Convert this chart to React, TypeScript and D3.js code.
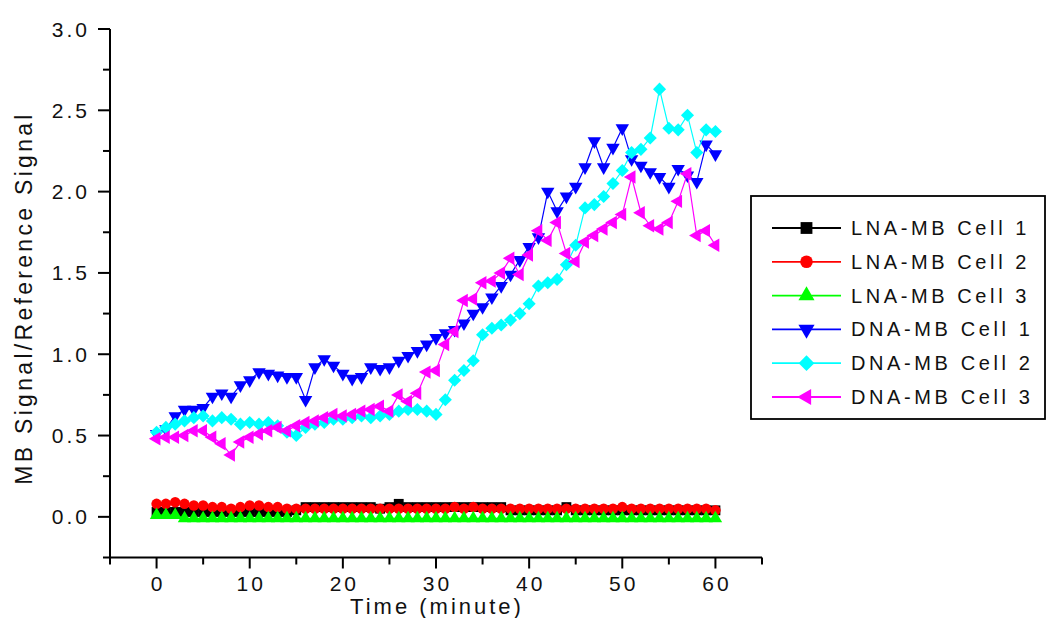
import React from "react";
import * as d3 from "d3";

const minutes = [0,1,2,3,4,5,6,7,8,9,10,11,12,13,14,15,16,17,18,19,20,21,22,23,24,25,26,27,28,29,30,31,32,33,34,35,36,37,38,39,40,41,42,43,44,45,46,47,48,49,50,51,52,53,54,55,56,57,58,59,60];

const lnaCell1 = [0.03,0.03,0.03,0.03,0.03,0.03,0.03,0.03,0.03,0.03,0.03,0.03,0.03,0.03,0.03,0.04,0.06,0.06,0.06,0.06,0.06,0.06,0.06,0.06,0.05,0.06,0.08,0.06,0.06,0.06,0.06,0.06,0.06,0.06,0.06,0.06,0.06,0.06,0.04,0.04,0.04,0.04,0.04,0.04,0.06,0.04,0.04,0.04,0.04,0.04,0.04,0.04,0.04,0.04,0.04,0.04,0.04,0.04,0.04,0.04,0.04];
const lnaCell2 = [0.08,0.08,0.09,0.08,0.07,0.07,0.06,0.06,0.05,0.06,0.07,0.07,0.06,0.06,0.05,0.05,0.05,0.05,0.05,0.05,0.05,0.05,0.05,0.05,0.05,0.05,0.05,0.05,0.05,0.05,0.05,0.05,0.06,0.05,0.06,0.05,0.05,0.05,0.05,0.05,0.05,0.05,0.05,0.05,0.05,0.05,0.05,0.05,0.05,0.05,0.06,0.05,0.05,0.05,0.05,0.05,0.05,0.05,0.05,0.05,0.04];
const lnaCell3 = [0.01,0.01,0.01,-0.01,-0.01,-0.01,-0.01,-0.01,-0.01,-0.01,-0.01,-0.01,-0.01,-0.01,-0.01,-0.01,-0.01,-0.01,-0.01,-0.01,-0.01,-0.01,-0.01,-0.01,-0.01,-0.01,-0.01,-0.01,-0.01,-0.01,-0.01,-0.01,-0.01,-0.01,-0.01,-0.01,-0.01,-0.01,-0.01,-0.01,-0.01,-0.01,-0.01,-0.01,-0.01,-0.01,-0.01,-0.01,-0.01,-0.01,-0.01,-0.01,-0.01,-0.01,-0.01,-0.01,-0.01,-0.01,-0.01,-0.01,-0.01];
const dnaCell1 = [0.51,0.54,0.62,0.66,0.66,0.67,0.74,0.76,0.74,0.81,0.84,0.89,0.88,0.87,0.86,0.86,0.72,0.92,0.97,0.93,0.88,0.85,0.86,0.92,0.91,0.92,0.96,0.99,1.02,1.06,1.10,1.13,1.15,1.19,1.25,1.29,1.35,1.42,1.49,1.58,1.66,1.72,2.00,1.88,1.97,2.03,2.15,2.31,2.15,2.27,2.39,2.20,2.16,2.12,2.09,2.03,2.14,2.10,2.06,2.29,2.23];
const dnaCell2 = [0.52,0.55,0.57,0.59,0.61,0.62,0.59,0.61,0.60,0.57,0.58,0.57,0.58,0.56,0.52,0.50,0.55,0.57,0.58,0.60,0.60,0.61,0.62,0.61,0.62,0.63,0.65,0.66,0.66,0.65,0.63,0.72,0.84,0.90,0.96,1.12,1.16,1.18,1.21,1.25,1.31,1.42,1.44,1.46,1.55,1.67,1.90,1.92,1.97,2.05,2.13,2.24,2.26,2.33,2.63,2.39,2.38,2.47,2.24,2.38,2.37];
const dnaCell3 = [0.48,0.49,0.49,0.50,0.53,0.53,0.49,0.45,0.38,0.46,0.49,0.51,0.53,0.55,0.53,0.56,0.58,0.59,0.61,0.63,0.62,0.63,0.65,0.66,0.68,0.65,0.75,0.71,0.76,0.89,0.90,1.06,1.14,1.33,1.34,1.44,1.45,1.50,1.59,1.49,1.61,1.76,1.70,1.81,1.62,1.57,1.69,1.73,1.77,1.81,1.86,2.09,1.87,1.79,1.77,1.81,1.94,2.11,1.73,1.76,1.67];

const seriesNames = ["LNA-MB Cell 1","LNA-MB Cell 2","LNA-MB Cell 3","DNA-MB Cell 1","DNA-MB Cell 2","DNA-MB Cell 3"];
const seriesValues = [lnaCell1, lnaCell2, lnaCell3, dnaCell1, dnaCell2, dnaCell3];
const seriesColors = ["#000000","#ff0000","#00ff00","#0000ff","#00ffff","#ff00ff"];
const seriesShapes = ["square","circle","up","down","diamond","left"];

const xMajorTicks = [0,10,20,30,40,50,60];
const xMinorTicks = [-5,5,15,25,35,45,55,65];
const yMajorTicks = [0,0.5,1.0,1.5,2.0,2.5,3.0];
const yMinorTicks = [-0.25,0.25,0.75,1.25,1.75,2.25,2.75];

const FONT = "'Liberation Sans', Arial, sans-serif";

function markerPath(shape: string, s: number) {
  switch (shape) {
    case "square": return { d: d3.symbol().type(d3.symbolSquare).size(s * s * 0.62)()!, rot: 0 };
    case "circle": return { d: d3.symbol().type(d3.symbolCircle).size(s * s * 0.55)()!, rot: 0 };
    case "diamond": return { d: d3.symbol().type(d3.symbolSquare).size(s * s * 0.55)()!, rot: 45 };
    case "up": return { d: d3.symbol().type(d3.symbolTriangle).size(s * s * 0.5)()!, rot: 0 };
    case "down": return { d: d3.symbol().type(d3.symbolTriangle).size(s * s * 0.5)()!, rot: 180 };
    case "left": return { d: d3.symbol().type(d3.symbolTriangle).size(s * s * 0.5)()!, rot: -90 };
  }
  return { d: "", rot: 0 };
}

export default function App() {
  const x = d3.scaleLinear().domain([-5, 65]).range([110, 762]);
  const y = d3.scaleLinear().domain([-0.25, 3]).range([557.5, 29]);
  const line = d3.line<number>().x((_, i) => x(minutes[i])).y((v) => y(v));

  const legendX = 751, legendY = 196, legendW = 294, legendH = 223;
  const rowY = (i: number) => 228 + i * 33.8;

  return (
    <div style={{ position: "absolute", left: 0, top: 0 }}>
      <svg width={1047} height={618} style={{ display: "block", background: "#fff" }} fontFamily={FONT}>
        <rect x={0} y={0} width={1047} height={618} fill="#fff" />
        {seriesValues.map((vals, si) => {
          const m = markerPath(seriesShapes[si], 12.5);
          return (
            <g key={si}>
              <path d={line(vals)!} fill="none" stroke={seriesColors[si]} strokeWidth={1.2} />
              {vals.map((v, i) => (
                <path key={i} d={m.d} fill={seriesColors[si]}
                  transform={`translate(${x(minutes[i])},${y(v)}) rotate(${m.rot})`} />
              ))}
            </g>
          );
        })}
        <line x1={110} x2={110} y1={y(3)} y2={y(-0.25)} stroke="#000" strokeWidth={2} />
        <line x1={x(-5)} x2={x(65)} y1={557.5} y2={557.5} stroke="#000" strokeWidth={2} />
        {yMajorTicks.map((t) => (
          <g key={"ym" + t}>
            <line x1={98} x2={110} y1={y(t)} y2={y(t)} stroke="#000" strokeWidth={2} />
            <text x={90} y={y(t)} textAnchor="end" dominantBaseline="central" fontSize={21} letterSpacing={3} fill="#111">{t.toFixed(1)}</text>
          </g>
        ))}
        {yMinorTicks.map((t) => (
          <line key={"yn" + t} x1={103} x2={110} y1={y(t)} y2={y(t)} stroke="#000" strokeWidth={2} />
        ))}
        {xMajorTicks.map((t) => (
          <g key={"xm" + t}>
            <line x1={x(t)} x2={x(t)} y1={557.5} y2={568.5} stroke="#000" strokeWidth={2} />
            <text x={x(t) + 1.5} y={583} textAnchor="middle" dominantBaseline="central" fontSize={21} letterSpacing={3} fill="#111">{t}</text>
          </g>
        ))}
        {xMinorTicks.map((t) => (
          <line key={"xn" + t} x1={x(t)} x2={x(t)} y1={557.5} y2={564.5} stroke="#000" strokeWidth={2} />
        ))}
        <text x={437} y={606} textAnchor="middle" dominantBaseline="central" fontSize={22} letterSpacing={3} fill="#111">Time (minute)</text>
        <text transform={`translate(24,298) rotate(-90)`} textAnchor="middle" dominantBaseline="central" fontSize={23} letterSpacing={3.3} fill="#111">MB Signal/Reference Signal</text>
        <rect x={legendX} y={legendY} width={legendW} height={legendH} fill="#fff" stroke="#000" strokeWidth={1.8} />
        {seriesNames.map((name, i) => {
          const m = markerPath(seriesShapes[i], 15);
          return (
            <g key={name}>
              <line x1={772} x2={841} y1={rowY(i)} y2={rowY(i)} stroke={seriesColors[i]} strokeWidth={1.8} />
              <path d={m.d} fill={seriesColors[i]} transform={`translate(806.5,${rowY(i)}) rotate(${m.rot})`} />
              <text x={851} y={rowY(i)} dominantBaseline="central" fontSize={20} letterSpacing={3.6} fill="#111">{name}</text>
            </g>
          );
        })}
      </svg>
    </div>
  );
}
